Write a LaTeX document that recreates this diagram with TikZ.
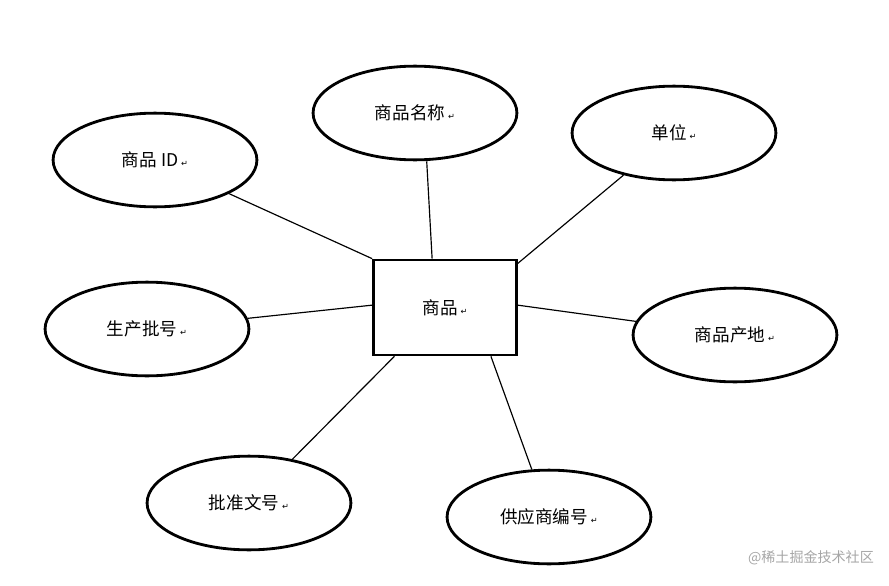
\documentclass[tikz,border=0pt]{standalone}
\usepackage{fontspec}
\setmainfont{Noto Sans CJK SC}
\newfontfamily\symfont{DejaVu Sans}
\usetikzlibrary{shapes.geometric}
\newcommand{\ret}{\,{\symfont\fontsize{7}{7}\selectfont ↵}}
\tikzset{
  attr/.style={draw, ellipse, line width=2.4pt, minimum width=174pt, minimum height=80pt, font=\fontsize{15}{18}\selectfont},
  entity/.style={draw, rectangle, line width=2.4pt, minimum width=122pt, minimum height=81pt, font=\fontsize{15}{18}\selectfont},
  link/.style={line width=1pt}
}
\begin{document}
\begin{tikzpicture}[x=0.03cm, y=-0.03cm]
		\useasboundingbox (0,0) rectangle (889,586);
		% entity
		\node[entity] (Goods) at (445,307.5) {商品\ret};
		
		% attributes
		\node[attr] (GoodsID) at (155,160) {商品 ID\ret};
		\node[attr] (GoodsName) at (415,113) {商品名称\ret};
		\node[attr] (Unit) at (674,133) {单位\ret};
		\node[attr] (BatchNo) at (147,329) {生产批号\ret};
		\node[attr] (Origin) at (735,335) {商品产地\ret};
		\node[attr] (ApprovalNo) at (249,503) {批准文号\ret};
		\node[attr] (SupplierNo) at (549,517) {供应商编号\ret};
		
		\draw[link] (GoodsID) -- (Goods.north west);
		\draw[link] ([xshift=10pt]GoodsName.south) -- ([xshift=-11pt]Goods.north);
		\draw[link] (Unit) -- ([yshift=-4pt]Goods.north east);
		\draw[link] (BatchNo) -- ([yshift=2pt]Goods.west);
		\draw[link] (Origin) -- ([yshift=2pt]Goods.east);
		\draw[link] (ApprovalNo) -- ([xshift=19pt]Goods.south west);
		\draw[link] (SupplierNo) -- ([xshift=-23pt]Goods.south east);
		
		\node[text=gray!70, font=\fontsize{12}{14}\selectfont, anchor=east] (Mark) at (878,558) {@稀土掘金技术社区};
\end{tikzpicture}
\end{document}
